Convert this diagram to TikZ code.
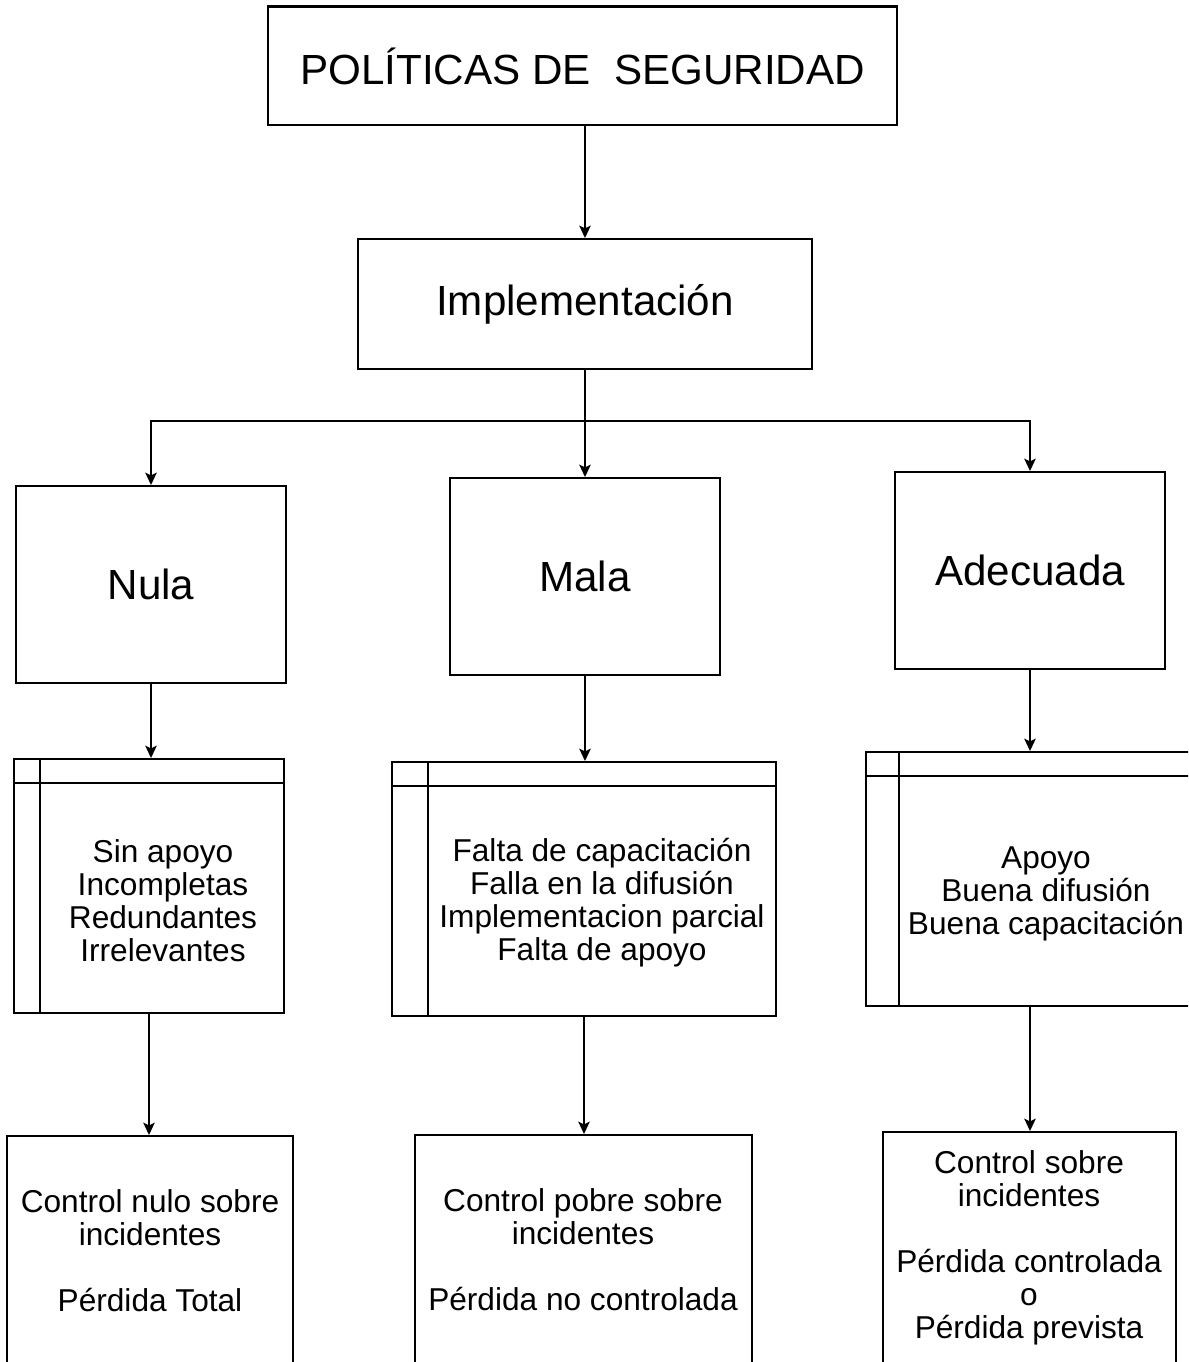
\documentclass[tikz,border=0pt]{standalone}
\usepackage{fontspec}
\setmainfont{Liberation Sans}
\usetikzlibrary{arrows.meta}

\begin{document}
\begin{tikzpicture}[x=0.02cm,y=-0.02cm,line width=1.15pt,>={Stealth[length=7pt,width=6.5pt,inset=1.5pt]}]
    \tikzstyle{box}=[rectangle,draw=black,inner sep=0pt,font=\fontsize{24}{28}\selectfont]
    \tikzstyle{listbox}=[rectangle,draw=black,inner sep=0pt,minimum height=5.08cm]
    \tikzstyle{txt}=[align=center,inner sep=0pt,font=\fontsize{18}{18.8}\selectfont]
    \clip (0,0) rectangle (1188,1362);

    \node[box,minimum width=12.58cm,minimum height=2.38cm] (pol) at (582.5,66) {POLÍTICAS DE\ \ SEGURIDAD};
    \node[box,minimum width=9.1cm,minimum height=2.6cm] (impl) at (585,304) {Implementación};

    \foreach \name/\x/\y/\txt in {nula/151/584.5/Nula, mala/585/576.5/Mala, adec/1030/570.5/Adecuada}
        \node[box,minimum width=5.42cm,minimum height=3.94cm] (\name) at (\x,\y) {\txt};

    % cajas con encabezado
    \node[listbox,minimum width=5.42cm] (lst1) at (149,886) {};
    \node[listbox,minimum width=7.68cm] (lst2) at (584,889) {};
    \node[listbox,minimum width=6.56cm] (lst3) at (1030,879) {};
    \foreach \b/\w in {lst1/0.54cm, lst2/0.74cm, lst3/0.68cm} {
        \draw ([yshift=-0.5cm]\b.north west) -- ([yshift=-0.5cm]\b.north east);
        \draw ([xshift=\w]\b.north west) -- ([xshift=\w]\b.south west);
    }
    \node[txt] (lst1-t) at (163,900.5) {Sin apoyo\\Incompletas\\Redundantes\\Irrelevantes};
    \node[txt] (lst2-t) at (602,902.5) {Falta de capacitación\\Falla en la difusión\\Implementacion parcial\\Falta de apoyo};
    \node[txt] (lst3-t) at (1046,894) {Apoyo\\Buena difusión\\Buena capacitación};

    % resultados
    \node[box,minimum width=5.72cm,minimum height=5.6cm] (res1) at (150,1276) {};
    \node[box,minimum width=6.74cm,minimum height=5.6cm] (res2) at (583.5,1275) {};
    \node[box,minimum width=5.86cm,minimum height=5.6cm] (res3) at (1029.5,1272) {};
    \node[txt] (res1-t) at (150,1250.5) {Control nulo sobre\\incidentes\\[18.8pt]Pérdida Total};
    \node[txt] (res2-t) at (583,1249.5) {Control pobre sobre\\incidentes\\[18.8pt]Pérdida no controlada};
    \node[txt] (res3-t) at (1029,1248) {Control sobre\\incidentes\\[18.8pt]Pérdida controlada\\o\\Pérdida prevista};

    \draw[->] (impl.north |- pol.south) -- (impl.north);
    \coordinate (split) at (585,421);
    \draw (impl.south) -- (split);
    \foreach \t in {nula,mala,adec}
        \draw[->] (split) -| (\t.north);

    \foreach \from/\to in {nula/lst1,mala/lst2,adec/lst3}
        \draw[->] (\from.south) -- (\from.south |- \to.north);
    \foreach \from/\to in {lst1/res1,lst2/res2,lst3/res3}
        \draw[->] (\from.south) -- (\from.south |- \to.north);
\end{tikzpicture}
\end{document}
